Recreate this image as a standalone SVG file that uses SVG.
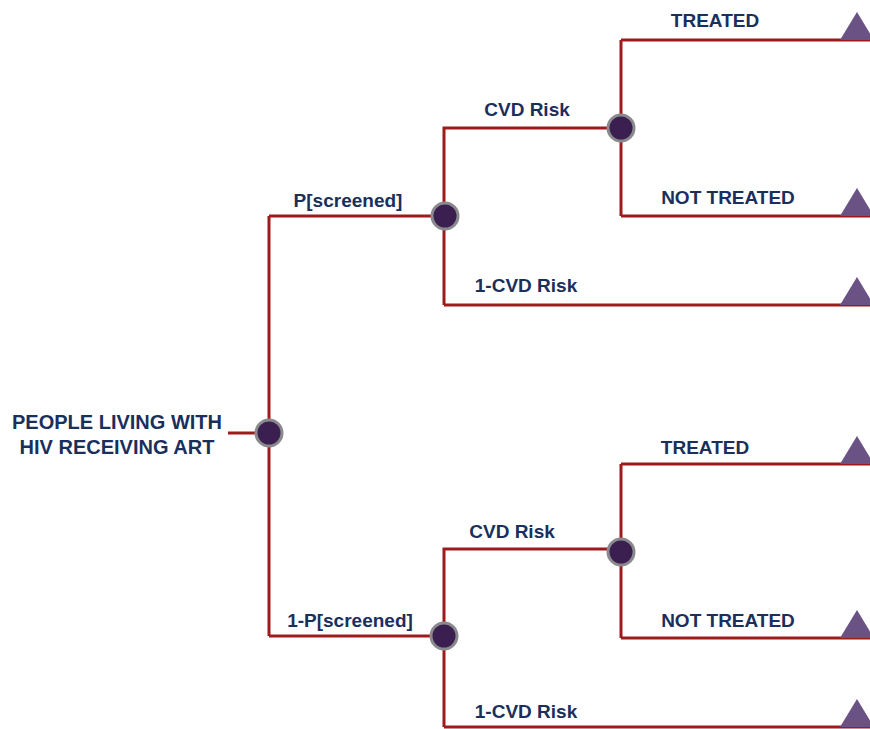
<svg xmlns="http://www.w3.org/2000/svg" width="870" height="729" viewBox="0 0 870 729">
<style>
.ln{fill:none;stroke:#9e1b1b;stroke-width:3}
.nd{fill:#3b1f50;stroke:#8a8a8e;stroke-width:3}
.tr{fill:#6b5284}
text{font-family:"Liberation Sans",Arial,sans-serif;font-weight:bold;font-size:19px;fill:#1a2f5c;text-anchor:middle}
.rt{font-size:20px}
</style>
<rect width="870" height="729" fill="#fff"/>
<g id="connectors">
<path class="ln" d="M228 433H269M269 216V636M269 216H446M269 636H444"/>
<path class="ln" d="M444 305V128H621M444 305H870M621 40V216M621 40H870M621 216H870"/>
<path class="ln" d="M444 727V549H621M444 727H870M621 464V638M621 464H870M621 638H870"/>
</g>
<g id="labels">
<text x="715" y="27">TREATED</text>
<text x="527" y="116">CVD Risk</text>
<text x="728" y="204">NOT TREATED</text>
<text x="348" y="207">P[screened]</text>
<text x="526" y="292">1-CVD Risk</text>
<text x="705" y="454">TREATED</text>
<text x="512" y="538">CVD Risk</text>
<text x="728" y="627">NOT TREATED</text>
<text x="350" y="627">1-P[screened]</text>
<text x="526" y="718">1-CVD Risk</text>
</g>
<g id="root">
<text class="rt" x="117" y="429">PEOPLE LIVING WITH</text>
<text class="rt" x="117" y="454">HIV RECEIVING ART</text>
<circle class="nd" cx="269" cy="433" r="13"/>
</g>
<g id="n-screened"><circle class="nd" cx="445" cy="216" r="13"/></g>
<g id="n-cvd1"><circle class="nd" cx="621" cy="128" r="13"/></g>
<g id="n-notscreened"><circle class="nd" cx="444" cy="636" r="13"/></g>
<g id="n-cvd2"><circle class="nd" cx="621" cy="552" r="13"/></g>
<g id="t1"><polygon class="tr" points="840,40 857,12 874,40"/></g>
<g id="t2"><polygon class="tr" points="840,216 857,188 874,216"/></g>
<g id="t3"><polygon class="tr" points="840,305 857,277 874,305"/></g>
<g id="t4"><polygon class="tr" points="840,464 857,436 874,464"/></g>
<g id="t5"><polygon class="tr" points="840,638 857,610 874,638"/></g>
<g id="t6"><polygon class="tr" points="840,727 857,699 874,727"/></g>
</svg>
